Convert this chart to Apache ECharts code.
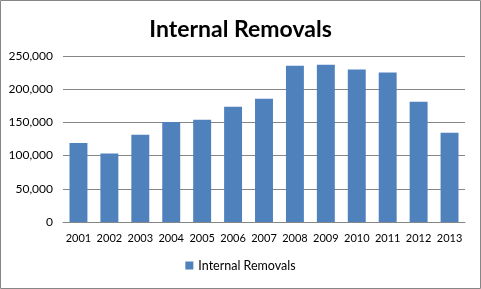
<!DOCTYPE html>
<html><head><meta charset="utf-8">
<script src="https://cdn.jsdelivr.net/npm/echarts@6/dist/echarts.min.js"></script>
<style>html,body{margin:0;padding:0;background:#fff}#c{width:481px;height:289px}</style>
</head><body><div id="c"></div>
<script>
const categories = ['2001','2002','2003','2004','2005','2006','2007','2008','2009','2010','2011','2012','2013'];
const removals = [119000, 103000, 131500, 150500, 154000, 173500, 185500, 235500, 237000, 229500, 225000, 181000, 134500];
const seriesName = 'Internal Removals';
const chart = echarts.init(document.getElementById('c'));
chart.setOption({
  animation: false,
  backgroundColor: '#fff',
  title: { text: 'Internal Removals', left: 'center', top: 13,
    textStyle: { fontFamily: 'Lato', fontWeight: 'bold', fontSize: 23, color: '#000' } },
  graphic: [{ type: 'rect', shape: { x: 0.5, y: 0.5, width: 480, height: 288 },
    style: { fill: 'none', stroke: '#868686', lineWidth: 1 } }],
  legend: { bottom: 12, left: 'center', itemWidth: 8, itemHeight: 8, itemGap: 4,
    textStyle: { fontFamily: 'Lato', fontSize: 12.5, color: '#000' }, data: [{ name: seriesName, icon: 'rect' }] },
  grid: { left: 63, right: 16, top: 56, bottom: 67 },
  xAxis: { type: 'category', data: categories,
    axisLine: { lineStyle: { color: '#868686' } }, axisTick: { show: false },
    axisLabel: { fontFamily: 'Lato', fontSize: 11, color: '#000', margin: 11, interval: 0 } },
  yAxis: { type: 'value', min: 0, max: 250000, interval: 50000,
    axisLine: { show: false }, axisTick: { show: false },
    splitLine: { lineStyle: { color: '#868686' } },
    axisLabel: { fontFamily: 'Lato', fontSize: 12, color: '#000', margin: 10,
      formatter: v => v.toLocaleString('en-US') } },
  series: [{ name: seriesName, type: 'bar', data: removals, barWidth: '58%',
    itemStyle: { color: '#4F81BD' } }]
});
</script></body></html>
